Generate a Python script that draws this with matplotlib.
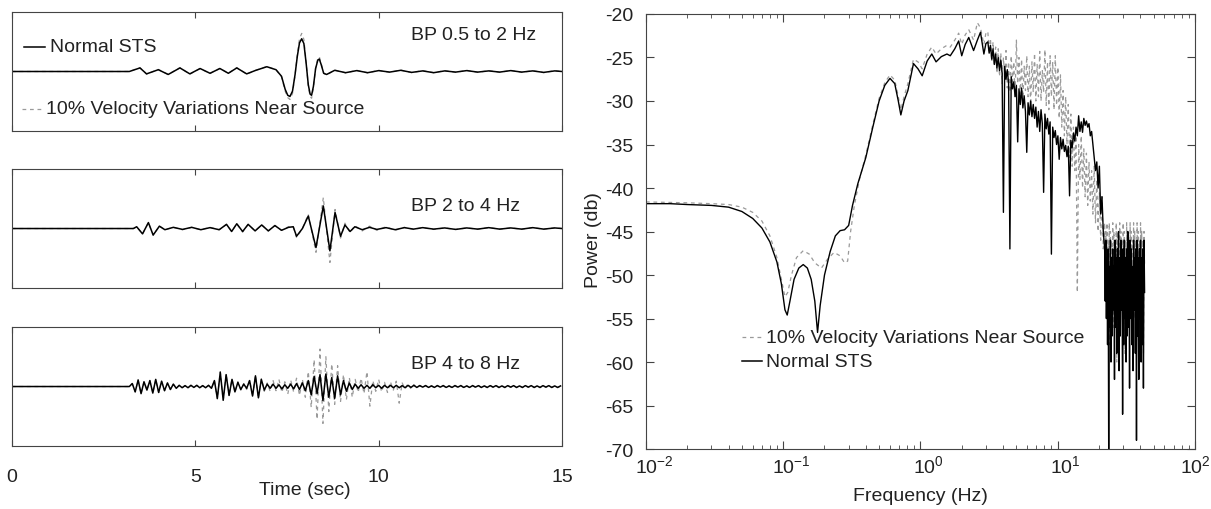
import numpy as np
import matplotlib
matplotlib.use("Agg")
import matplotlib.pyplot as plt
from matplotlib.transforms import ScaledTranslation
from matplotlib.ticker import LogLocator, NullFormatter

plt.rcParams["font.family"] = ["Liberation Sans", "DejaVu Sans"]
plt.rcParams["font.size"] = 14
plt.rcParams["axes.unicode_minus"] = False
plt.rcParams["mathtext.fontset"] = "custom"
plt.rcParams["mathtext.rm"] = "Liberation Sans"
plt.rcParams["mathtext.it"] = "Liberation Sans:italic"
plt.rcParams["mathtext.bf"] = "Liberation Sans:bold"

# ---- seismograms (time in s, normalised amplitude) ----
band_names = ["BP 0.5 to 2 Hz", "BP 2 to 4 Hz", "BP 4 to 8 Hz"]

t1 = [0.0, 3.20, 3.49, 3.67, 3.99, 4.26, 4.58, 4.85, 5.13, 5.40,
      5.67, 5.90, 6.13, 6.40, 6.65, 6.95, 7.20, 7.35, 7.45, 7.52,
      7.58, 7.65, 7.72, 7.78, 7.84, 7.90, 7.96, 8.02, 8.08, 8.13,
      8.17, 8.22, 8.28, 8.34, 8.38, 8.43, 8.50, 8.58, 8.80, 9.10,
      9.40, 9.70, 10.00, 10.30, 10.60, 10.90, 11.20, 11.50, 11.80, 12.10,
      12.40, 12.70, 13.00, 13.30, 13.60, 13.90, 14.20, 14.50, 14.80, 15.00]
sts1 = [0, 0, 0.06, -0.04, 0.03, -0.05, 0.06, -0.04, 0.05, -0.03,
        0.05, -0.03, 0.06, -0.04, 0.02, 0.08, 0.03, -0.08, -0.30, -0.40,
        -0.42, -0.33, -0.05, 0.25, 0.48, 0.55, 0.47, 0.15, -0.22, -0.38,
        -0.40, -0.25, 0.05, 0.19, 0.21, 0.12, -0.03, -0.05, 0.02, -0.02,
        0.015, -0.02, 0.015, -0.01, 0.02, -0.015, 0.01, -0.02, 0.01, -0.01,
        0.015, -0.01, 0.01, -0.01, 0.015, -0.01, 0.01, -0.015, 0.01, 0]
var1 = [0, 0, 0.065, -0.045, 0.035, -0.05, 0.065, -0.045, 0.05, -0.035,
        0.055, -0.03, 0.065, -0.045, 0.02, 0.085, 0.03, -0.09, -0.33, -0.44,
        -0.47, -0.37, -0.06, 0.28, 0.55, 0.64, 0.54, 0.17, -0.25, -0.42,
        -0.45, -0.28, 0.06, 0.22, 0.25, 0.14, -0.03, -0.06, 0.025, -0.025,
        0.02, -0.025, 0.02, -0.015, 0.025, -0.02, 0.015, -0.02, 0.015, -0.015,
        0.02, -0.015, 0.015, -0.015, 0.02, -0.015, 0.015, -0.02, 0.015, 0]

t2 = [0.0, 3.31, 3.40, 3.56, 3.72, 3.85, 4.02, 4.17, 4.40, 4.65,
      4.90, 5.15, 5.40, 5.65, 5.85, 5.99, 6.13, 6.29, 6.44, 6.63,
      6.81, 6.99, 7.17, 7.35, 7.54, 7.67, 7.76, 7.92, 8.08, 8.29,
      8.49, 8.67, 8.81, 8.96, 9.08, 9.22, 9.35, 9.55, 9.75, 9.95,
      10.20, 10.45, 10.70, 10.95, 11.20, 11.50, 11.80, 12.10, 12.40, 12.70,
      13.00, 13.30, 13.60, 13.90, 14.20, 14.50, 14.80, 15.00]
sts2 = [0, 0, 0.03, -0.09, 0.10, -0.11, 0.04, -0.02, 0.02, -0.015,
        0.02, -0.02, 0.015, -0.02, 0.07, -0.05, 0.08, -0.05, 0.07, -0.04,
        0.06, -0.04, 0.05, -0.03, 0.02, 0.03, -0.13, 0.0, 0.21, -0.32,
        0.38, -0.375, 0.27, -0.13, 0.06, -0.05, 0.03, -0.02, 0.02, -0.015,
        0.015, -0.02, 0.015, -0.01, 0.015, -0.01, 0.01, -0.015, 0.01, -0.01,
        0.015, -0.01, 0.01, -0.01, 0.015, -0.01, 0.01, 0]
var2 = [0, 0, 0.03, -0.09, 0.10, -0.11, 0.04, -0.02, 0.02, -0.02,
        0.02, -0.02, 0.02, -0.02, 0.07, -0.05, 0.08, -0.06, 0.07, -0.04,
        0.06, -0.04, 0.05, -0.03, 0.03, 0.03, -0.15, 0.0, 0.24, -0.40,
        0.52, -0.57, 0.32, -0.16, 0.09, -0.07, 0.05, -0.04, 0.04, -0.03,
        0.03, -0.03, 0.02, -0.015, 0.015, -0.015, 0.01, -0.015, 0.01, -0.01,
        0.015, -0.01, 0.01, -0.01, 0.015, -0.01, 0.01, 0]

# 4-8 Hz trace read at 0.08 s steps from 3.2 s
t3 = np.r_[0.0, np.round(np.arange(3.20, 15.0, 0.08), 2)]
sts3 = [0, 0,
        0.05, -0.09, 0.11, -0.12, 0.08, -0.06, 0.10, -0.11, 0.12, -0.10,
        0.09, -0.07, 0.06, -0.05, 0.04, -0.03, 0.02,
        -0.02, 0.015, -0.02, 0.02, -0.015, 0.02, -0.02, 0.015, -0.02, 0.02, -0.03,
        0.10, -0.20, 0.24, -0.23, 0.20, -0.15, 0.12, -0.09, 0.07,
        -0.05, 0.04, -0.03,
        0.10, -0.16, 0.18, -0.19, 0.12, -0.06,
        0.04, -0.03, 0.04, -0.03, 0.03, -0.04, 0.03, -0.03, 0.04, -0.04,
        0.05, -0.05, 0.06, -0.07,
        0.10, -0.14, 0.17, -0.12, 0.20, -0.235, 0.21, -0.18, 0.15, -0.20,
        0.18, -0.14, 0.10, -0.08, 0.06, -0.05,
        0.04, -0.03, 0.03, -0.03, 0.02, -0.03, 0.03, -0.02, 0.02, -0.03,
        0.02, -0.02, 0.02, -0.02, 0.02, -0.02, 0.015, -0.02, 0.02, -0.015, 0.02,
        -0.015, 0.015, -0.01, 0.015, -0.015, 0.01, -0.015, 0.015, -0.01, 0.015,
        -0.015, 0.01, -0.015, 0.015, -0.01, 0.015, -0.015, 0.01, -0.015, 0.015,
        -0.01, 0.015, -0.015, 0.01, -0.015, 0.015, -0.01, 0.015, -0.015, 0.01,
        -0.015, 0.015, -0.01, 0.015, -0.015, 0.01, -0.015, 0.015, -0.01, 0.015,
        -0.015, 0.01, -0.015, 0.015, -0.01, 0.015, -0.015, 0.01, -0.015, 0.01]
var3 = [0, 0,
        0.05, -0.09, 0.11, -0.12, 0.08, -0.06, 0.10, -0.11, 0.12, -0.10,
        0.09, -0.07, 0.06, -0.05, 0.04, -0.03, 0.02,
        -0.02, 0.015, -0.02, 0.02, -0.015, 0.02, -0.02, 0.015, -0.02, 0.02, -0.03,
        0.10, -0.21, 0.25, -0.24, 0.21, -0.16, 0.13, -0.10, 0.08,
        -0.06, 0.05, -0.05,
        0.11, -0.17, 0.19, -0.20, 0.13, -0.08,
        0.06, -0.08, 0.10, -0.07, 0.12, -0.10, 0.08, -0.13, 0.11, -0.09,
        0.14, -0.15, 0.12, -0.18,
        0.25, -0.35, 0.45, -0.55, 0.63, -0.62, 0.50, -0.42, 0.38, -0.30,
        0.35, -0.25, 0.20, -0.22, 0.15, -0.18,
        0.12, -0.10, 0.14, -0.12, 0.25, -0.33, 0.10, -0.08, 0.12, -0.09,
        0.07, -0.10, 0.08, -0.06, 0.09, -0.28, 0.06, -0.04, 0.05, -0.04, 0.03,
        -0.02, 0.02, -0.015, 0.02, -0.02, 0.015, -0.02, 0.02, -0.015, 0.02,
        -0.02, 0.015, -0.02, 0.02, -0.015, 0.02, -0.02, 0.015, -0.02, 0.02,
        -0.015, 0.02, -0.02, 0.015, -0.02, 0.02, -0.015, 0.02, -0.02, 0.015,
        -0.02, 0.02, -0.015, 0.02, -0.02, 0.015, -0.02, 0.02, -0.015, 0.02,
        -0.02, 0.015, -0.02, 0.02, -0.015, 0.02, -0.02, 0.015, -0.02, 0.01]

traces = [(t1, sts1, var1), (t2, sts2, var2), (t3, sts3, var3)]

# ---- power spectra (Hz, dB) ----
# smooth low-frequency part
sts_f = [0.01, 0.015, 0.02, 0.03, 0.04, 0.05, 0.06, 0.07, 0.08, 0.09,
         0.097, 0.103, 0.107, 0.112, 0.12, 0.13, 0.14, 0.15, 0.16, 0.17,
         0.178, 0.186, 0.20, 0.22, 0.24, 0.26, 0.28, 0.30, 0.32, 0.35,
         0.40, 0.45, 0.50, 0.55, 0.60, 0.65, 0.69, 0.72, 0.76, 0.81,
         0.89, 0.96, 1.03, 1.12, 1.21, 1.30, 1.42, 1.56, 1.65, 1.78,
         1.90, 2.00, 2.12, 2.25, 2.44, 2.60, 2.74, 2.90, 3.00]
sts_db = [-41.8, -41.8, -41.9, -42.0, -42.2, -42.7, -43.5, -44.6, -46.2, -48.5,
          -51.0, -54.0, -54.6, -53.0, -50.5, -49.2, -48.8, -49.2, -50.5, -53.0,
          -56.6, -53.5, -50.0, -47.3, -45.5, -44.9, -44.8, -44.3, -42.0, -39.5,
          -36.5, -33.0, -30.0, -28.2, -27.4, -28.0, -30.0, -31.6, -30.0, -28.8,
          -25.7, -26.3, -27.1, -25.4, -24.6, -25.5, -24.9, -24.6, -24.8, -24.0,
          -23.1, -24.8, -23.5, -22.7, -24.2, -23.0, -22.1, -24.6, -23.4]

var_f = [0.01, 0.02, 0.03, 0.04, 0.05, 0.06, 0.07, 0.08, 0.09, 0.097,
         0.103, 0.108, 0.115, 0.125, 0.14, 0.155, 0.17, 0.19, 0.21, 0.235,
         0.26, 0.28, 0.295, 0.31, 0.33, 0.36, 0.40, 0.45, 0.50, 0.55,
         0.60, 0.65, 0.69, 0.72, 0.76, 0.81, 0.89, 0.96, 1.03, 1.12,
         1.21, 1.30, 1.42, 1.56, 1.65, 1.78, 1.90, 2.00, 2.12, 2.25,
         2.44, 2.60, 2.74, 2.90, 3.00]
var_db = [-41.6, -41.7, -41.8, -41.9, -42.2, -42.8, -43.8, -45.5, -48.0, -50.5,
          -52.5, -52.0, -50.0, -48.0, -47.2, -47.6, -48.6, -49.2, -48.2, -47.4,
          -47.8, -48.6, -48.4, -45.0, -42.0, -39.0, -36.2, -32.7, -29.7, -27.9,
          -27.0, -27.6, -29.5, -31.0, -29.5, -28.0, -25.2, -25.5, -26.3, -24.6,
          -23.8, -24.6, -24.0, -23.6, -23.8, -23.0, -22.2, -23.5, -22.4, -21.8,
          -23.0, -21.0, -21.6, -23.5, -22.2]

# noisy middle part, 3.1-21.5 Hz
mid_f = np.geomspace(3.1, 21.5, 90)
sts_mid = [-23.2, -24.5, -23.6, -25.2, -24.0, -25.8, -24.6, -26.2, -25.0, -26.5,
           -25.3, -26.8, -42.8, -26.0, -27.5, -26.4, -28.0, -47.0, -27.2, -28.6,
           -27.8, -29.5, -28.2, -34.7, -28.6, -30.4, -28.5, -30.8, -29.4, -31.2,
           -35.9, -30.2, -31.6, -30.0, -31.8, -30.4, -32.0, -30.7, -33.0, -31.2,
           -33.5, -31.0, -32.6, -40.5, -31.5, -33.2, -32.0, -33.8, -32.4, -47.6,
           -33.0, -34.2, -33.4, -35.0, -34.0, -36.7, -34.2, -35.5, -34.4, -35.8,
           -35.1, -36.4, -35.2, -40.9, -34.5, -35.4, -33.7, -34.6, -33.0, -34.0,
           -31.7, -33.5, -32.4, -33.6, -32.0, -32.8, -32.3, -33.0, -32.6, -34.0,
           -33.5, -35.0, -36.5, -38.0, -37.0, -40.0, -37.5, -43.0, -41.0, -45.0]
var_mid = [-22.0, -24.5, -22.8, -25.5, -23.2, -26.0, -23.8, -26.8, -24.0, -27.2,
           -24.5, -28.0, -25.0, -27.5, -24.2, -28.5, -25.5, -29.0, -24.8, -27.8,
           -25.5, -29.5, -23.0, -28.0, -25.0, -29.2, -25.2, -30.0, -26.0, -28.8,
           -24.8, -29.5, -26.0, -30.5, -25.5, -29.0, -24.5, -30.0, -25.8, -29.5,
           -24.3, -30.0, -26.5, -29.0, -24.1, -30.5, -25.5, -31.0, -24.8, -29.5,
           -25.5, -31.0, -24.8, -30.5, -26.1, -32.0, -27.0, -33.0, -28.8, -34.0,
           -29.5, -35.0, -30.4, -36.5, -31.5, -37.5, -33.0, -38.0, -34.0, -52.0,
           -35.0, -39.0, -34.0, -40.0, -35.5, -41.0, -36.0, -42.0, -37.0, -41.5,
           -38.0, -43.0, -37.5, -44.0, -39.0, -45.0, -40.5, -46.0, -41.0, -47.0]

# dense high-frequency band, 22-43 Hz
band_f = np.geomspace(22, 43, 70)
sts_band = [-47, -53, -46, -55, -48, -58, -47, -70, -49, -56,
            -46, -60, -48, -57, -47, -54, -49, -62, -46, -56,
            -48, -59, -47, -55, -45, -61, -48, -57, -46, -54,
            -49, -66, -47, -58, -46, -55, -48, -60, -47, -57,
            -45, -56, -48, -63, -46, -55, -47, -58, -49, -61,
            -46, -54, -48, -59, -47, -69, -46, -57, -48, -62,
            -47, -55, -46, -60, -48, -58, -47, -63, -46, -52]
var_band = [-44, -50, -45, -52, -44, -55, -46, -51, -44, -58,
            -45, -53, -46, -50, -44, -56, -45, -52, -46, -54,
            -44, -60, -45, -51, -46, -53, -44, -57, -45, -50,
            -46, -55, -44, -52, -45, -59, -46, -51, -44, -54,
            -45, -56, -46, -50, -44, -53, -45, -58, -46, -51,
            -44, -55, -45, -52, -46, -57, -44, -50, -45, -54,
            -46, -56, -44, -51, -45, -53, -46, -59, -45, -49]

GREY = "#9a9a9a"
EDGE = "#444444"
TXT = "#222222"
DASH = (0, (3, 3))

fig = plt.figure(figsize=(12.11, 5.10), dpi=100)

lefts = [fig.add_axes([0.0099, b, 0.4542, 0.2333]) for b in (0.7412, 0.4333, 0.1235)]
for i, ax in enumerate(lefts):
    t, s, v = traces[i]
    ax.plot(t, v, color=GREY, lw=0.9, ls=DASH)
    ax.plot(t, s, color="k", lw=1.1)
    ax.set_xlim(0, 15)
    ax.set_ylim(-1, 1)
    ax.set_xticks([0, 5, 10, 15])
    ax.set_yticks([])
    ax.tick_params(axis="x", direction="in", top=True, length=4, color=EDGE,
                   labelbottom=(i == 2), pad=16, labelcolor=TXT)
    for sp in ax.spines.values():
        sp.set_color(EDGE)
    ax.text(0.725, 0.69 if i else 0.815, band_names[i], transform=ax.transAxes,
            va="center", ha="left", color=TXT)

# split legend in the first panel
ax = lefts[0]
ax.plot([0.022, 0.06], [0.706, 0.706], transform=ax.transAxes, color="k", lw=1.1)
ax.text(0.069, 0.706, "Normal STS", transform=ax.transAxes, va="center", color=TXT)
ax.plot([0.018, 0.058], [0.185, 0.185], transform=ax.transAxes, color=GREY, lw=0.9, ls=DASH)
ax.text(0.062, 0.185, "10% Velocity Variations Near Source", transform=ax.transAxes,
        va="center", color=TXT)

fig.text(305 / 1211, 1 - 491 / 510, "Time (sec)", ha="center", va="center", color=TXT)

# spectrum
ax2 = fig.add_axes([0.5334, 0.1176, 0.4533, 0.853])
ax2.plot(np.r_[var_f, mid_f, band_f], np.r_[var_db, var_mid, var_band],
         color=GREY, lw=0.9, ls=DASH)
ax2.plot(np.r_[sts_f, mid_f, band_f], np.r_[sts_db, sts_mid, sts_band], color="k", lw=1.0)
ax2.set_xscale("log")
ax2.set_xlim(1e-2, 1e2)
ax2.set_ylim(-70, -20)
ax2.set_yticks(np.arange(-70, -19, 5))
ax2.xaxis.set_minor_locator(LogLocator(base=10, subs=np.arange(2, 10)))
ax2.xaxis.set_minor_formatter(NullFormatter())
ax2.set_xticks([1e-2, 1e-1, 1e0, 1e1, 1e2])
ax2.set_xticklabels([])
ax2.tick_params(which="both", direction="in", top=True, right=True, color=EDGE,
                labelcolor=TXT)
ax2.tick_params(which="major", length=6)
ax2.tick_params(which="minor", length=3)
ax2.tick_params(axis="y", pad=9)
for sp in ax2.spines.values():
    sp.set_color(EDGE)

# matlab-style decade labels, the "10" sits on the tick
for k in range(-2, 3):
    dx = 8 if k < 2 else 0
    shift = ScaledTranslation(dx / 100, 0, fig.dpi_scale_trans)
    ax2.text(10.0 ** k, -0.012, "$10^{%d}$" % k, transform=ax2.get_xaxis_transform() + shift,
             ha="center", va="top", color=TXT)

ax2.plot([0.175, 0.211], [0.2575, 0.2575], transform=ax2.transAxes, color=GREY, lw=0.9, ls=DASH)
ax2.text(0.219, 0.2575, "10% Velocity Variations Near Source", transform=ax2.transAxes,
         va="center", color=TXT)
ax2.plot([0.175, 0.211], [0.2023, 0.2023], transform=ax2.transAxes, color="k", lw=1.1)
ax2.text(0.219, 0.2023, "Normal STS", transform=ax2.transAxes, va="center", color=TXT)

fig.text(920 / 1211, 1 - 497 / 510, "Frequency (Hz)", ha="center", va="center", color=TXT)
fig.text(593 / 1211, 1 - 240 / 510, "Power (db)", ha="center", va="center", rotation=90,
         color=TXT)

fig.savefig("out.png", dpi=100)
